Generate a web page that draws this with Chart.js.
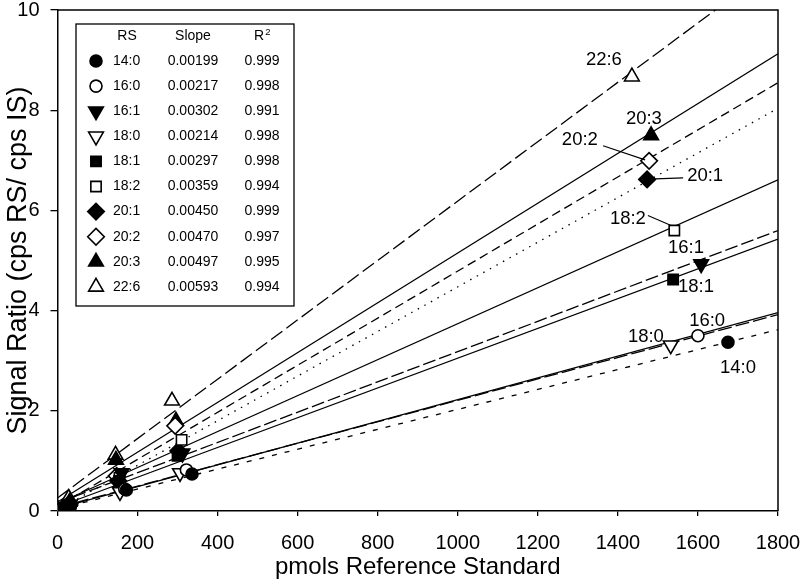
<!DOCTYPE html>
<html><head><meta charset="utf-8">
<script src="https://cdn.jsdelivr.net/npm/chart.js@4/dist/chart.umd.min.js"></script>
<style>html,body{margin:0;padding:0;background:#fff}</style>
</head><body>
<canvas id="c" width="800" height="584"></canvas>
<script>
// ---------- DATA ----------
const categories = ['14:0','16:0','16:1','18:0','18:1','18:2','20:1','20:2','20:3','22:6'];
const slopeLabels = ['0.00199','0.00217','0.00302','0.00214','0.00297','0.00359','0.00450','0.00470','0.00497','0.00593'];
const r2Labels = ['0.999','0.998','0.991','0.998','0.998','0.994','0.999','0.997','0.995','0.994'];

const x14_0 = [0, 32, 172, 336, 1675];
const y14_0 = [0.02, 0.08, 0.42, 0.74, 3.37];
const x16_0 = [0, 30, 168, 322, 1600];
const y16_0 = [0.02, 0.08, 0.44, 0.82, 3.50];
const x16_1 = [0, 30, 160, 312, 1608];
const y16_1 = [0.03, 0.12, 0.76, 1.15, 4.93];
const x18_0 = [0, 30, 156, 306, 1532];
const y18_0 = [0.02, 0.07, 0.38, 0.76, 3.31];
const x18_1 = [0, 30, 154, 300, 1538];
const y18_1 = [0.03, 0.10, 0.60, 1.10, 4.62];
const x18_2 = [0, 30, 155, 310, 1541];
const y18_2 = [0.03, 0.12, 0.66, 1.42, 5.60];
const x20_1 = [0, 30, 152, 302, 1473];
const y20_1 = [0.03, 0.12, 0.60, 1.20, 6.62];
const x20_2 = [0, 30, 148, 294, 1478];
const y20_2 = [0.03, 0.15, 0.70, 1.70, 6.99];
const x20_3 = [0, 30, 146, 296, 1483];
const y20_3 = [0.03, 0.18, 1.02, 1.80, 7.50];
const x22_6 = [0, 28, 145, 286, 1435];
const y22_6 = [0.04, 0.26, 1.12, 2.20, 8.67];

const seriesX = [x14_0, x16_0, x16_1, x18_0, x18_1, x18_2, x20_1, x20_2, x20_3, x22_6];
const seriesY = [y14_0, y16_0, y16_1, y18_0, y18_1, y18_2, y20_1, y20_2, y20_3, y22_6];

// regression lines: value at x=0 and at x=1800
const fitX = [0, 1800];
const fitAt0 = [0.04, 0.05, 0.16, 0.07, 0.08, 0.15, 0.02, 0.09, 0.18, 0.26];
const fitAt1800 = [3.62, 3.96, 5.60, 3.92, 5.43, 6.61, 8.04, 8.55, 9.13, 10.93];

const xTicks = [0, 200, 400, 600, 800, 1000, 1200, 1400, 1600, 1800];
const yTicks = [0, 2, 4, 6, 8, 10];

// ---------- FONTS ----------
const FONT = "'Liberation Sans', Arial, Helvetica, sans-serif";
const SZ = { tick: 20, xtitle: 24, ytitle: 27, ann: 18.5, leg: 14, sup: 9.5 };

// ---------- STYLE ----------
const markerStyle = [
  {s:'circle', f:true, r:6, rot:0},
  {s:'circle', f:false, r:6, rot:0},
  {s:'triangle', f:true, r:8.5, rot:180},
  {s:'triangle', f:false, r:8.5, rot:180},
  {s:'rect', f:true, r:7.3, rot:0},
  {s:'rect', f:false, r:7.3, rot:0},
  {s:'rectRot', f:true, r:8.3, rot:0},
  {s:'rectRot', f:false, r:8.3, rot:0},
  {s:'triangle', f:true, r:8.5, rot:0},
  {s:'triangle', f:false, r:8.5, rot:0}
];
const lineDash = [[5,8],[],[13,4],[14,4],[],[],[1.5,6],[9,5],[],[14,5]];

// annotation labels (data coordinates)
const annotations = [
  {t:'22:6', x:1365, y:9.01},
  {t:'20:3', x:1465, y:7.82},
  {t:'20:2', x:1305, y:7.41, lead:[1363,7.29,1468,7.01]},
  {t:'20:1', x:1618, y:6.69, lead:[1493,6.63,1563,6.65]},
  {t:'18:2', x:1425, y:5.84, lead:[1475,5.90,1533,5.70]},
  {t:'16:1', x:1570, y:5.25},
  {t:'18:1', x:1595, y:4.48},
  {t:'16:0', x:1623, y:3.80},
  {t:'18:0', x:1470, y:3.47},
  {t:'14:0', x:1700, y:2.85}
];

// ---------- DATASETS ----------
const datasets = [];
categories.forEach((c, i) => {
  const m = markerStyle[i];
  datasets.push({
    label: c,
    data: seriesX[i].map((x, k) => ({x, y: seriesY[i][k]})),
    showLine: false,
    pointStyle: m.s,
    pointRotation: m.rot,
    pointRadius: m.r,
    pointHoverRadius: m.r,
    pointBackgroundColor: m.f ? '#000' : '#fff',
    pointBorderColor: '#000',
    pointBorderWidth: 1.6,
    order: 1
  });
});
categories.forEach((c, i) => {
  datasets.push({
    label: c + ' fit',
    data: fitX.map((x, k) => ({x, y: k === 0 ? fitAt0[i] : fitAt1800[i]})),
    showLine: true,
    borderColor: '#000',
    borderWidth: 1.3,
    borderDash: lineDash[i],
    pointRadius: 0,
    fill: false,
    order: 2
  });
});

function drawMarker(ctx, m, x, y) {
  const r = m.r;
  let rad = (m.rot || 0) * Math.PI / 180;
  ctx.beginPath();
  if (m.s === 'circle') {
    ctx.arc(x, y, r, 0, Math.PI * 2);
  } else if (m.s === 'triangle') {
    ctx.moveTo(x + Math.sin(rad) * r, y - Math.cos(rad) * r);
    rad += 2 * Math.PI / 3;
    ctx.lineTo(x + Math.sin(rad) * r, y - Math.cos(rad) * r);
    rad += 2 * Math.PI / 3;
    ctx.lineTo(x + Math.sin(rad) * r, y - Math.cos(rad) * r);
  } else if (m.s === 'rect') {
    const s = Math.SQRT1_2 * r;
    ctx.rect(x - s, y - s, 2 * s, 2 * s);
  } else if (m.s === 'rectRot') {
    ctx.moveTo(x - r, y); ctx.lineTo(x, y - r); ctx.lineTo(x + r, y); ctx.lineTo(x, y + r);
  }
  ctx.closePath();
  ctx.fillStyle = m.f ? '#000' : '#fff';
  ctx.fill();
  ctx.lineWidth = 1.6;
  ctx.strokeStyle = '#000';
  ctx.stroke();
}

const overlay = {
  id: 'overlay',
  afterDraw(chart) {
    const ctx = chart.ctx, a = chart.chartArea;
    const xs = chart.scales.x, ys = chart.scales.y;
    ctx.save();
    // frame top + right
    ctx.strokeStyle = '#000'; ctx.lineWidth = 1.5;
    ctx.beginPath();
    ctx.moveTo(a.left, a.top); ctx.lineTo(a.right, a.top); ctx.lineTo(a.right, a.bottom);
    ctx.stroke();
    // annotations
    ctx.fillStyle = '#000';
    ctx.font = SZ.ann + 'px ' + FONT;
    ctx.textAlign = 'center'; ctx.textBaseline = 'middle';
    annotations.forEach(an => {
      ctx.fillText(an.t, xs.getPixelForValue(an.x), ys.getPixelForValue(an.y));
      if (an.lead) {
        ctx.lineWidth = 1.1;
        ctx.beginPath();
        ctx.moveTo(xs.getPixelForValue(an.lead[0]), ys.getPixelForValue(an.lead[1]));
        ctx.lineTo(xs.getPixelForValue(an.lead[2]), ys.getPixelForValue(an.lead[3]));
        ctx.stroke();
      }
    });
    // legend table
    const L = 76, T = 24, R = 294, B = 306;
    ctx.fillStyle = '#fff';
    ctx.fillRect(L, T, R - L, B - T);
    ctx.lineWidth = 1.3; ctx.strokeStyle = '#000';
    ctx.strokeRect(L, T, R - L, B - T);
    ctx.fillStyle = '#000';
    ctx.font = SZ.leg + 'px ' + FONT;
    ctx.textBaseline = 'middle';
    ctx.textAlign = 'center';
    ctx.fillText('RS', 127, 36);
    ctx.fillText('Slope', 193, 36);
    ctx.fillText('R', 259, 36);
    ctx.font = SZ.sup + 'px ' + FONT;
    ctx.fillText('2', 268, 32);
    ctx.font = SZ.leg + 'px ' + FONT;
    categories.forEach((c, i) => {
      const yy = 61 + i * 25.1;
      drawMarker(ctx, markerStyle[i], 96, yy);
      ctx.fillStyle = '#000';
      ctx.textAlign = 'left';
      ctx.fillText(c, 113, yy);
      ctx.textAlign = 'center';
      ctx.fillText(slopeLabels[i], 193, yy);
      ctx.fillText(r2Labels[i], 262, yy);
    });
    ctx.restore();
  }
};

new Chart(document.getElementById('c'), {
  type: 'scatter',
  data: { datasets },
  plugins: [overlay],
  options: {
    responsive: false,
    animation: false,
    events: [],
    layout: { padding: { top: 6, right: 22, left: 0, bottom: 0 } },
    plugins: { legend: { display: false }, tooltip: { enabled: false } },
    scales: {
      x: {
        type: 'linear', min: 0, max: 1800,
        afterBuildTicks: s => { s.ticks = xTicks.map(v => ({value: v})); },
        afterFit: s => { s.height = 73; s.paddingLeft = 0; s.paddingRight = 0; },
        ticks: { color: '#000', font: { family: FONT, size: SZ.tick }, padding: 15, maxRotation: 0, callback: v => String(v) },
        grid: { display: true, drawOnChartArea: false, drawTicks: true, tickLength: 5, color: '#000', lineWidth: 1.3 },
        border: { display: true, color: '#000', width: 1.5 },
        title: { display: true, text: 'pmols Reference Standard', color: '#000', font: { family: FONT, size: SZ.xtitle }, padding: { top: 0, bottom: 2 } }
      },
      y: {
        type: 'linear', min: 0, max: 10,
        afterBuildTicks: s => { s.ticks = yTicks.map(v => ({value: v})); },
        afterFit: s => { s.width = 57.5; s.paddingTop = 0; s.paddingBottom = 0; },
        ticks: { color: '#000', font: { family: FONT, size: SZ.tick }, padding: 11, callback: v => String(v) },
        grid: { display: true, drawOnChartArea: false, drawTicks: true, tickLength: 7, color: '#000', lineWidth: 1.3 },
        border: { display: true, color: '#000', width: 1.5 },
        title: { display: true, text: 'Signal Ratio (cps RS/ cps IS)', color: '#000', font: { family: FONT, size: SZ.ytitle }, padding: { top: 2, bottom: 0 } }
      }
    }
  }
});
</script>
</body></html>
